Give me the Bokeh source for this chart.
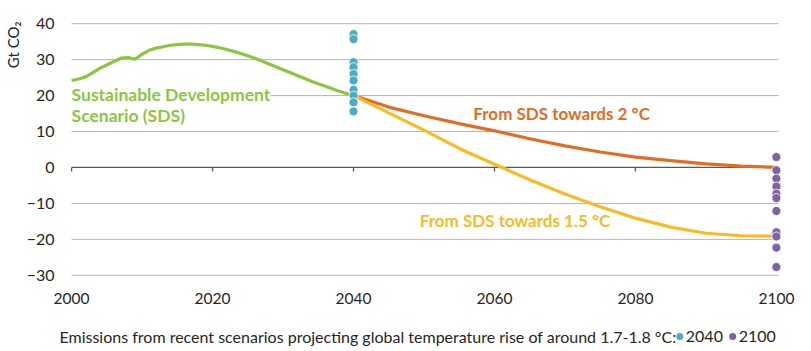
from bokeh.plotting import figure
from bokeh.layouts import column
from bokeh.models import Label, FixedTicker, Range1d, Title
from bokeh.core.properties import value
from bokeh.embed import file_html
from bokeh.resources import INLINE

FONT = "Lato"

# ---- data ----
sds_years = list(range(2000, 2041))
sds_vals = [24.2, 24.6, 25.2, 26.4, 27.6, 28.5, 29.5, 30.4, 30.6, 30.1,
            31.5, 32.6, 33.2, 33.6, 34.0, 34.2, 34.3, 34.3, 34.2, 34.0,
            33.7, 33.3, 32.8, 32.3, 31.7, 31.1, 30.4, 29.6, 28.8, 28.0,
            27.2, 26.4, 25.6, 24.8, 24.0, 23.3, 22.6, 21.9, 21.2, 20.6, 20.0]

path_years = [2040, 2045, 2050, 2055, 2060, 2065, 2070, 2075, 2080, 2085, 2090, 2095, 2100]
two_deg = [20.0, 16.8, 14.4, 12.2, 10.2, 8.0, 6.0, 4.3, 2.9, 1.9, 1.0, 0.4, 0.0]
one5_deg = [20.0, 15.2, 10.4, 5.3, 0.9, -3.4, -7.4, -10.9, -14.1, -16.6, -18.3, -19.0, -19.1]

dots_2040 = [37.1, 35.7, 29.3, 27.9, 26.0, 24.2, 21.6, 20.0, 18.1, 15.6]
dots_2100 = [2.9, -0.8, -3.1, -5.3, -7.3, -8.5, -12.1, -18.0, -19.2, -22.3, -27.7]

y_ticks = [-30, -20, -10, 0, 10, 20, 30, 40]
x_ticks = [2000, 2020, 2040, 2060, 2080, 2100]

legend_title = "Emissions from recent scenarios projecting global temperature rise of around 1.7-1.8 °C:"
legend_labels = ["2040", "2100"]

GREEN = "#8cc63f"
ORANGE = "#e36c24"
YELLOW = "#fbb923"
BLUE = "#4bacc6"
PURPLE = "#7e62a6"
TEXT = "#262626"

p = figure(width=811, height=316, output_backend="svg", toolbar_location=None,
           x_range=Range1d(1998, 2102), y_range=Range1d(-32, 42),
           min_border_left=55, min_border_right=21, min_border_top=16, min_border_bottom=34)
p.outline_line_color = None
p.xgrid.visible = False
p.ygrid.visible = False

for ax in (p.xaxis[0], p.yaxis[0]):
    ax.axis_line_color = None
    ax.major_tick_line_color = None
    ax.minor_tick_line_color = None
    ax.major_tick_out = 0
    ax.major_tick_in = 0
    ax.minor_tick_out = 0
    ax.minor_tick_in = 0
    ax.major_label_text_font = FONT
    ax.major_label_text_color = TEXT

p.yaxis.ticker = FixedTicker(ticks=y_ticks)
p.yaxis.major_label_text_font_size = "16px"
p.yaxis.major_label_standoff = 3

p.xaxis.ticker = FixedTicker(ticks=x_ticks)
p.xaxis.major_label_text_font_size = "15.5px"
p.xaxis.major_label_standoff = 10

# y axis title near the top
p.add_layout(Title(text="Gt CO₂", align="right", text_font=FONT, text_font_size="15px",
                   text_font_style="normal", text_color=TEXT, offset=5, standoff=3), "left")

# grid lines (light grey, to read as the reference's fine dotted rules)
grid_ys = [t for t in y_ticks if t != 0]
p.multi_line(xs=[[x_ticks[0], x_ticks[-1] + 0.3] for _ in grid_ys],
             ys=[[g, g] for g in grid_ys],
             line_color="#b4b4b4", line_width=1)

# zero axis line with ticks
p.line(x=[x_ticks[0], x_ticks[-1]], y=[0, 0], line_color="#595959", line_width=1.3)
p.segment(x0=x_ticks, x1=x_ticks, y0=[0] * len(x_ticks), y1=[-1.1] * len(x_ticks),
          line_color="#595959", line_width=1.3)

# lines
p.line(sds_years, sds_vals, line_color=GREEN, line_width=3.2)
p.line(path_years, two_deg, line_color=ORANGE, line_width=3.2)
p.line(path_years, one5_deg, line_color=YELLOW, line_width=3.2)

# scenario dots
p.scatter([2040] * len(dots_2040), dots_2040, size=9, fill_color=BLUE,
          line_color="white", line_width=0.8)
p.scatter([2100] * len(dots_2100), dots_2100, size=9, fill_color=PURPLE,
          line_color="white", line_width=0.8)

def lab(x, y, text, color, size="17px", bg=None):
    l = Label(x=x, y=y, text=text, text_color=color, text_font=FONT,
              text_font_size=size, text_font_style="bold",
              text_align="left", text_baseline="middle",
              background_fill_color=bg)
    p.add_layout(l)
    return l

lab(2000, 20.3, "Sustainable Development", GREEN, "17.5px", bg="white")
lab(2000, 14.4, "Scenario (SDS)", GREEN, "17.5px")
lab(2057.0, 15.0, "From SDS towards 2 °C", ORANGE)
lab(2049.4, -14.7, "From SDS towards 1.5 °C", YELLOW)

# ---- bottom legend strip: its frame is aligned with the main frame (55..790 px) ----
p2 = figure(width=811, height=35, output_backend="svg", toolbar_location=None,
            x_range=Range1d(55, 790), y_range=Range1d(35, 0),
            x_axis_location=None, y_axis_location=None,
            min_border_left=55, min_border_right=21,
            min_border_top=0, min_border_bottom=0)
p2.grid.visible = False
p2.outline_line_color = None

p2.text(x=[57], y=[20], text=[legend_title], text_font=value(FONT), text_font_size="16px",
        text_color=TEXT, text_baseline="middle", text_align="left")
p2.scatter(x=[679, 732], y=[20, 20], size=7, fill_color=[BLUE, PURPLE], line_color=None)
p2.text(x=[685, 738], y=[20, 20], text=legend_labels, text_font=value(FONT),
        text_font_size="16px", text_color=TEXT, text_baseline="middle", text_align="left")

open("out.html", "w").write(file_html(column(p, p2, spacing=0), INLINE))
